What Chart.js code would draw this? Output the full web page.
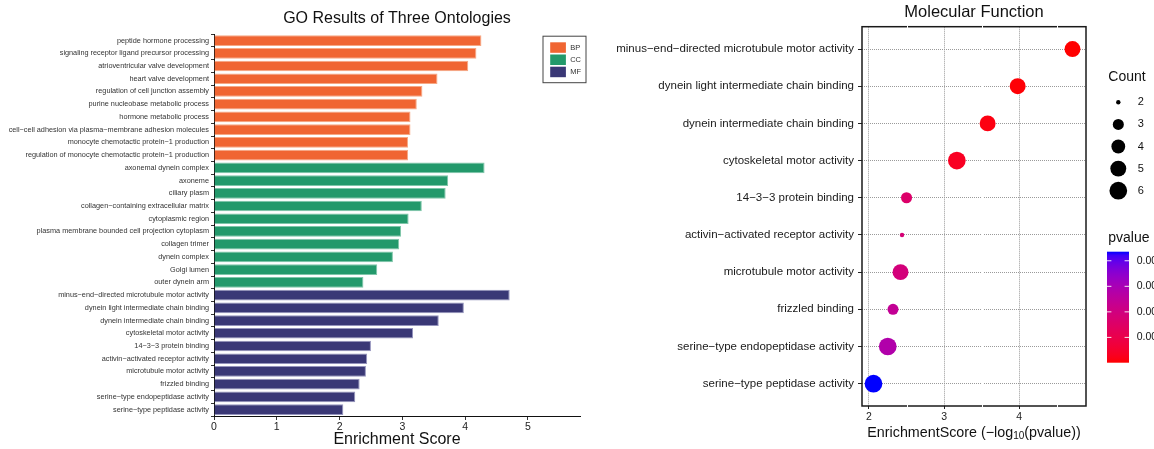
<!DOCTYPE html>
<html>
<head>
<meta charset="utf-8">
<script src="https://cdn.jsdelivr.net/npm/chart.js@4.4.1/dist/chart.umd.min.js"></script>
<style>
  html, body { margin: 0; padding: 0; background: #ffffff; }
  #wrap { position: relative; width: 1154px; height: 449px; overflow: hidden; background: #ffffff; }
  canvas { position: absolute; top: 0; }
  #goBars { left: 0; }
  #mfDots { left: 595px; }
</style>
</head>
<body>
<div id="wrap">
  <canvas id="goBars" width="595" height="449"></canvas>
  <canvas id="mfDots" width="559" height="449"></canvas>
</div>
<script>
const FONT = "'Liberation Sans', Arial, Helvetica, sans-serif";

// ---- GO terms and enrichment scores (-log10 p) per ontology ----
const bpTerms = [
  'peptide hormone processing',
  'signaling receptor ligand precursor processing',
  'atrioventricular valve development',
  'heart valve development',
  'regulation of cell junction assembly',
  'purine nucleobase metabolic process',
  'hormone metabolic process',
  'cell\u2212cell adhesion via plasma\u2212membrane adhesion molecules',
  'monocyte chemotactic protein\u22121 production',
  'regulation of monocyte chemotactic protein\u22121 production'
];
const bpScores = [4.26, 4.18, 4.05, 3.56, 3.32, 3.23, 3.13, 3.13, 3.09, 3.09];

const ccTerms = [
  'axonemal dynein complex',
  'axoneme',
  'ciliary plasm',
  'collagen\u2212containing extracellular matrix',
  'cytoplasmic region',
  'plasma membrane bounded cell projection cytoplasm',
  'collagen trimer',
  'dynein complex',
  'Golgi lumen',
  'outer dynein arm'
];
const ccScores = [4.31, 3.73, 3.69, 3.31, 3.10, 2.98, 2.95, 2.85, 2.60, 2.38];

const mfTerms = [
  'minus\u2212end\u2212directed microtubule motor activity',
  'dynein light intermediate chain binding',
  'dynein intermediate chain binding',
  'cytoskeletal motor activity',
  '14\u22123\u22123 protein binding',
  'activin\u2212activated receptor activity',
  'microtubule motor activity',
  'frizzled binding',
  'serine\u2212type endopeptidase activity',
  'serine\u2212type peptidase activity'
];
const mfScores = [4.71, 3.98, 3.58, 3.17, 2.50, 2.44, 2.42, 2.32, 2.25, 2.06];
const mfCounts = [5, 5, 5, 6, 3, 2, 5, 3, 6, 6];
const mfPvalues = [1.95e-5, 1.05e-4, 2.63e-4, 6.76e-4, 3.16e-3, 3.63e-3, 3.80e-3, 4.79e-3, 5.62e-3, 8.71e-3];

const ontologies = ['BP', 'CC', 'MF'];
const ontologyColors = ['#F06532', '#23996B', '#3A3876'];
const ontologyEdges = ['#F6A884', '#7FC6A9', '#9594BD'];

const enrichTicks = [0, 1, 2, 3, 4, 5];
const mfScoreTicks = [2, 3, 4];
const mfMinorTicks = [2.5, 3.5, 4.5];
const countBreaks = [2, 3, 4, 5, 6];
const pvalueBreaks = [0.002, 0.004, 0.006, 0.008];

// ---- colour scale: red (low p) to blue (high p), interpolated in CIE Lab ----
function hexToRgb(h) {
  return [parseInt(h.slice(1, 3), 16), parseInt(h.slice(3, 5), 16), parseInt(h.slice(5, 7), 16)];
}
function rgbToLab(rgb) {
  const lin = rgb.map(c => { c /= 255; return c <= 0.04045 ? c / 12.92 : Math.pow((c + 0.055) / 1.055, 2.4); });
  const X = (0.4124 * lin[0] + 0.3576 * lin[1] + 0.1805 * lin[2]) / 0.95047;
  const Y = (0.2126 * lin[0] + 0.7152 * lin[1] + 0.0722 * lin[2]);
  const Z = (0.0193 * lin[0] + 0.1192 * lin[1] + 0.9505 * lin[2]) / 1.08883;
  const f = t => t > 0.008856 ? Math.cbrt(t) : 7.787 * t + 16 / 116;
  const fx = f(X), fy = f(Y), fz = f(Z);
  return [116 * fy - 16, 500 * (fx - fy), 200 * (fy - fz)];
}
function labToRgb(lab) {
  const fy = (lab[0] + 16) / 116, fx = fy + lab[1] / 500, fz = fy - lab[2] / 200;
  const inv = t => t > 0.206893 ? t * t * t : (t - 16 / 116) / 7.787;
  const X = inv(fx) * 0.95047, Y = inv(fy), Z = inv(fz) * 1.08883;
  const lin = [
    3.2406 * X - 1.5372 * Y - 0.4986 * Z,
    -0.9689 * X + 1.8758 * Y + 0.0415 * Z,
    0.0557 * X - 0.2040 * Y + 1.0570 * Z
  ];
  return lin.map(c => {
    c = Math.min(1, Math.max(0, c));
    c = c <= 0.0031308 ? 12.92 * c : 1.055 * Math.pow(c, 1 / 2.4) - 0.055;
    return Math.round(c * 255);
  });
}
const LAB_LOW = rgbToLab(hexToRgb('#FF0000'));
const LAB_HIGH = rgbToLab(hexToRgb('#0000FF'));
const pMin = Math.min(...mfPvalues);
const pMax = Math.max(...mfPvalues);
function pColor(p) {
  const t = Math.min(1, Math.max(0, (p - pMin) / (pMax - pMin)));
  const lab = LAB_LOW.map((v, k) => v + (LAB_HIGH[k] - v) * t);
  const c = labToRgb(lab);
  return `rgb(${c[0]},${c[1]},${c[2]})`;
}

// ---- size scale: area-proportional radius for gene counts ----
const cMin = Math.min(...countBreaks), cMax = Math.max(...countBreaks);
function countRadius(n) {
  const t = (n - cMin) / (cMax - cMin);
  return 2.2 + (8.85 - 2.2) * Math.sqrt(t);
}

// =================== left: horizontal bars of all three ontologies ===================
const allTerms = [...bpTerms, ...ccTerms, ...mfTerms];
const allScores = [...bpScores, ...ccScores, ...mfScores];
const groups = [bpTerms, ccTerms, mfTerms];
const barFill = [], barEdge = [];
groups.forEach((g, k) => g.forEach(() => { barFill.push(ontologyColors[k]); barEdge.push(ontologyEdges[k]); }));

const goDecor = {
  id: 'goDecor',
  afterDraw(chart) {
    const ctx = chart.ctx, a = chart.chartArea;
    ctx.save();
    // axis title
    ctx.fillStyle = '#111';
    ctx.font = `16px ${FONT}`;
    ctx.textAlign = 'center';
    ctx.textBaseline = 'middle';
    ctx.fillText('Enrichment Score', (a.left + a.right) / 2, 439.5);
    // ontology legend
    const bx = a.right - 37.5, by = a.top + 1.5, bw = 43, bh = 46.5;
    ctx.strokeStyle = '#444';
    ctx.lineWidth = 1;
    ctx.strokeRect(bx + 0.5, by + 0.5, bw, bh);
    ctx.font = `7.5px ${FONT}`;
    ctx.textAlign = 'left';
    ontologies.forEach((name, i) => {
      const y = by + 6.6 + i * 12.2;
      ctx.fillStyle = ontologyColors[i];
      ctx.fillRect(bx + 7.7, y, 15.7, 10.5);
      ctx.fillStyle = '#333';
      ctx.fillText(name, bx + 27.7, y + 5.5);
    });
    ctx.restore();
  }
};

new Chart(document.getElementById('goBars'), {
  type: 'bar',
  data: {
    labels: allTerms,
    datasets: [{
      data: allScores,
      backgroundColor: barFill,
      borderColor: barEdge,
      borderWidth: 1,
      barPercentage: 0.84,
      categoryPercentage: 1
    }]
  },
  options: {
    indexAxis: 'y',
    responsive: false,
    animation: false,
    layout: { padding: { left: 0, right: 15, top: 0, bottom: 0 } },
    plugins: {
      legend: { display: false },
      tooltip: { enabled: false },
      title: {
        display: true,
        text: 'GO Results of Three Ontologies',
        fullSize: false,
        color: '#111',
        font: { family: FONT, size: 16, weight: 'normal' },
        padding: { top: 9, bottom: 6 }
      }
    },
    scales: {
      y: {
        type: 'category',
        grid: { display: true, drawOnChartArea: false, drawTicks: true, tickLength: 3, tickColor: '#333', tickWidth: 1 },
        border: { display: true, color: '#111', width: 1 },
        ticks: { color: '#333', font: { family: FONT, size: 7.3 }, padding: 2, autoSkip: false },
        afterFit(s) { s.width = 214; }
      },
      x: {
        type: 'linear',
        min: 0,
        max: 5.83,
        afterBuildTicks(s) { s.ticks = enrichTicks.map(v => ({ value: v })); },
        grid: { display: true, drawOnChartArea: false, drawTicks: true, tickLength: 4, tickColor: '#333', tickWidth: 1 },
        border: { display: true, color: '#111', width: 1 },
        ticks: { color: '#222', font: { family: FONT, size: 10.5 }, padding: 1 },
        afterFit(s) { s.height = 33; }
      }
    }
  },
  plugins: [goDecor]
});

// =================== right: Molecular Function dot plot ===================
const mfDecor = {
  id: 'mfDecor',
  beforeDatasetsDraw(chart) {
    const ctx = chart.ctx, a = chart.chartArea, xs = chart.scales.x;
    ctx.save();
    ctx.strokeStyle = '#1a1a1a';
    ctx.lineWidth = 1.5;
    ctx.strokeRect(a.left, a.top, a.right - a.left, a.bottom - a.top);
    ctx.strokeStyle = '#ffffff';
    ctx.lineWidth = 1;
    mfMinorTicks.forEach(v => {
      const x = Math.round(xs.getPixelForValue(v)) + 0.5;
      ctx.beginPath();
      ctx.moveTo(x, a.top - 1);
      ctx.lineTo(x, a.bottom + 1);
      ctx.stroke();
    });
    ctx.restore();
  },
  afterDraw(chart) {
    const ctx = chart.ctx, a = chart.chartArea;
    ctx.save();
    // axis title with subscript
    const parts = [
      ['EnrichmentScore (\u2212log', 14.3, 0],
      ['10', 10, 3.5],
      ['(pvalue))', 14.3, 0]
    ];
    let total = 0;
    parts.forEach(p => { ctx.font = `${p[1]}px ${FONT}`; p.push(ctx.measureText(p[0]).width); total += p[3]; });
    let x = (a.left + a.right) / 2 - total / 2;
    ctx.fillStyle = '#111';
    ctx.textAlign = 'left';
    ctx.textBaseline = 'middle';
    parts.forEach(p => {
      ctx.font = `${p[1]}px ${FONT}`;
      ctx.fillText(p[0], x, 432.7 + p[2]);
      x += p[3];
    });

    // Count legend
    const lx = a.right + 22.3;
    ctx.font = `14px ${FONT}`;
    ctx.fillText('Count', lx, 77);
    ctx.font = `11px ${FONT}`;
    countBreaks.forEach((c, i) => {
      const y = 102.3 + i * 22.1;
      ctx.fillStyle = '#000';
      ctx.beginPath();
      ctx.arc(lx + 10, y, countRadius(c), 0, Math.PI * 2);
      ctx.fill();
      ctx.fillStyle = '#111';
      ctx.fillText(String(c), lx + 29.4, y);
    });

    // pvalue colour bar
    ctx.font = `14px ${FONT}`;
    ctx.fillStyle = '#111';
    ctx.fillText('pvalue', lx, 238);
    const cbx = a.right + 21, cbw = 22, cbTop = 251.7, cbBot = 362.7, cbh = cbBot - cbTop;
    const g = ctx.createLinearGradient(0, cbBot, 0, cbTop);
    for (let k = 0; k <= 30; k++) g.addColorStop(k / 30, pColor(pMin + (k / 30) * (pMax - pMin)));
    ctx.fillStyle = g;
    ctx.fillRect(cbx, cbTop, cbw, cbh);
    ctx.font = `10.5px ${FONT}`;
    pvalueBreaks.forEach(v => {
      const y = cbBot - (v - pMin) / (pMax - pMin) * cbh;
      ctx.strokeStyle = 'rgba(255,255,255,0.9)';
      ctx.lineWidth = 1;
      ctx.beginPath();
      ctx.moveTo(cbx, y); ctx.lineTo(cbx + 4.4, y);
      ctx.moveTo(cbx + cbw - 4.4, y); ctx.lineTo(cbx + cbw, y);
      ctx.stroke();
      ctx.fillStyle = '#111';
      ctx.fillText(v.toFixed(3), cbx + 29.7, y);
    });
    ctx.restore();
  }
};

new Chart(document.getElementById('mfDots'), {
  type: 'bubble',
  data: {
    datasets: [{
      data: mfTerms.map((t, i) => ({ x: mfScores[i], y: i, r: countRadius(mfCounts[i]) })),
      backgroundColor: mfPvalues.map(pColor),
      borderWidth: 0,
      hoverRadius: 0,
      clip: false
    }]
  },
  options: {
    responsive: false,
    animation: false,
    layout: { padding: { left: 0, right: 68, top: 0, bottom: 0 } },
    plugins: {
      legend: { display: false },
      tooltip: { enabled: false },
      title: {
        display: true,
        text: 'Molecular Function',
        fullSize: false,
        color: '#111',
        font: { family: FONT, size: 16.5, weight: 'normal' },
        padding: { top: 2.5, bottom: 4.4 }
      }
    },
    scales: {
      x: {
        type: 'linear',
        min: 1.907,
        max: 4.89,
        afterBuildTicks(s) { s.ticks = mfScoreTicks.map(v => ({ value: v })); },
        grid: { display: true, color: '#9a9a9a', lineWidth: 1, drawTicks: true, tickLength: 3, tickColor: '#222', tickWidth: 1 },
        border: { display: false, dash: [1, 1] },
        ticks: { color: '#222', font: { family: FONT, size: 10.5 }, padding: 2 },
        afterFit(s) { s.height = 43; }
      },
      y: {
        type: 'linear',
        reverse: true,
        min: -0.6,
        max: 9.6,
        afterBuildTicks(s) { s.ticks = mfTerms.map((t, i) => ({ value: i })); },
        grid: { display: true, color: '#9a9a9a', lineWidth: 1, drawTicks: true, tickLength: 4, tickColor: '#222', tickWidth: 1 },
        border: { display: false, dash: [1, 1] },
        ticks: {
          color: '#1a1a1a',
          font: { family: FONT, size: 11.5 },
          padding: 4,
          autoSkip: false,
          callback: v => mfTerms[v]
        },
        afterFit(s) { s.width = 267; }
      }
    }
  },
  plugins: [mfDecor]
});
</script>
</body>
</html>
